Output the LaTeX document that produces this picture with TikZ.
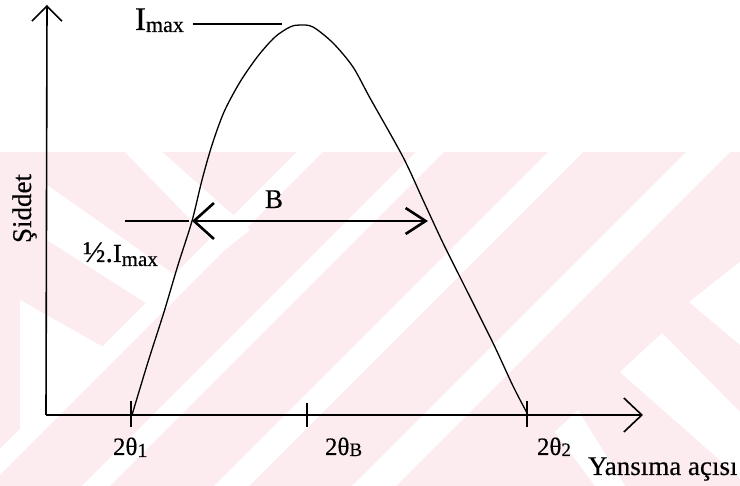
\documentclass[tikz,border=0pt]{standalone}
\usepackage{fontspec}
\setmainfont{Liberation Serif}[FakeBold=0.4]
\usetikzlibrary{arrows.meta}
\definecolor{wm}{RGB}{252,236,240}
\newcommand\lsub[3]{\raisebox{-#3}{\fontsize{#1}{#1}\selectfont #2}}
\begin{document}
\begin{tikzpicture}[x=1pt,y=-1pt,
  ax/.style={line width=1.6pt, black},
  thinline/.style={line width=1.1pt, black},
  curveline/.style={line width=1.3pt, black},
  lbl/.style={inner sep=0pt, outer sep=0pt, anchor=base west},
  wmwhite/.style={fill=white, draw=none}]
\useasboundingbox (0,0) rectangle (740,486);
% watermark
\fill[wm] (0,152) rectangle (740,486);
\begin{scope}
\clip (0,152) rectangle (740,486);
\fill[wmwhite] (297,152) -- (323,152) -- (0,475) -- (0,449) -- cycle;
\fill[wmwhite] (125,152) -- (162,152) -- (250,230) -- (222,252) -- cycle;
\fill[wmwhite] (47,185) -- (185,282) -- (160,312) -- (47,240) -- cycle;
\fill[wmwhite] (20,300) -- (112,352) -- (20,430) -- cycle;
\fill[wmwhite] (416,152) -- (444,152) -- (110,486) -- (82,486) -- cycle;
\fill[wmwhite] (548,152) -- (583,152) -- (249,486) -- (214,486) -- cycle;
\fill[wmwhite] (686,152) -- (730,152) -- (396,486) -- (352,486) -- cycle;
\fill[wmwhite] (740,262) -- (689,302) -- (740,345) -- cycle;
\fill[wmwhite] (662,333) -- (620,372) -- (740,478) -- (740,412) -- cycle;
\fill[wmwhite] (555,432) -- (578,410) -- (625,486) -- (595,486) -- cycle;
\end{scope}
% axes
\coordinate (O) at (46,415);
\coordinate (Ytop) at (47,5);
\coordinate (Xend) at (643,415);
\draw[ax, -{Straight Barb[length=15pt,width=30pt]}] (O) -- (Ytop);
\draw[ax, -{Straight Barb[length=18pt,width=34pt]}] (O) -- (Xend);
% ticks
\coordinate (t1a) at (131,401); \coordinate (t1b) at (131,427);
\coordinate (tBa) at (307,403); \coordinate (tBb) at (307,427);
\coordinate (t2a) at (527,401); \coordinate (t2b) at (527,427);
\draw[thinline] (t1a) -- (t1b);
\draw[thinline] (tBa) -- (tBb);
\draw[thinline] (t2a) -- (t2b);
% curve
\draw[curveline] plot[smooth, tension=0.5] coordinates {(132,415) (148,362) (164,312) (178,265) (192,221) (202,180) (212,145) (224,112) (240,82) (258,56) (275,37) (290,27) (300,25) (313,27) (333,43) (353,67) (370,98) (403,157) (423,200) (443,243) (463,283) (493,343) (513,386) (527,413)};
% half max line and width arrow
\coordinate (hA) at (125,221);
\coordinate (hL) at (189,221);
\draw[thinline] (hA) -- (hL);
\coordinate (bL) at (192,221);
\coordinate (bR) at (428,221);
\draw[line width=2.6pt, {Straight Barb[length=20pt,width=36pt]}-{Straight Barb[length=20pt,width=26pt]}] (bL) -- (bR);
% Imax line
\coordinate (mA) at (193,24);
\coordinate (mB) at (282,24);
\draw[thinline] (mA) -- (mB);
% labels
\node[lbl] (imax) at (135,30) {\fontsize{33}{33}\selectfont I\lsub{22}{max}{2pt}};
\node[lbl] (half) at (83,262) {\fontsize{30}{30}\selectfont ½.\fontsize{26}{26}\selectfont I\lsub{21}{max}{4pt}};
\node[lbl] (Blab) at (265,208) {\fontsize{27}{27}\selectfont B};
\node[lbl] (l1) at (113,455) {\fontsize{25}{25}\selectfont 2θ\lsub{20}{1}{2pt}};
\node[lbl] (lB) at (325,455) {\fontsize{25}{25}\selectfont 2θ\lsub{19}{B}{1pt}};
\node[lbl] (l2) at (537,455) {\fontsize{25}{25}\selectfont 2θ\lsub{19}{2}{1pt}};
\node[lbl] (yx) at (588,475) {\fontsize{27}{27}\selectfont Yansıma açısı};
\node[lbl, rotate=90] (yl) at (31,243) {\fontsize{27}{27}\selectfont Şiddet};
\end{tikzpicture}
\end{document}
